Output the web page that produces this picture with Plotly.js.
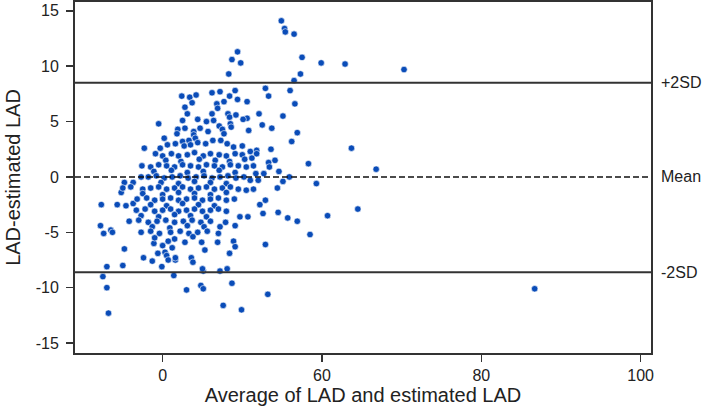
<!DOCTYPE html>
<html>
<head>
<meta charset="utf-8">
<script src="https://cdn.plot.ly/plotly-3.0.1.min.js"></script>
<style>html,body{margin:0;padding:0;background:#fff;}#chart{width:709px;height:414px;}</style>
</head>
<body>
<div id="chart"></div>
<script>
// Bland-Altman data: average of LAD and estimated LAD (x) vs LAD - estimated LAD (y)
const avgOuter = [54.9, 55.3, 55.4, 56.5, 49.4, 48.7, 49.8, 57.5, 59.9, 62.9,
  70.3, 48.3, 57.3, 56.5, 52.9, 53.3, 56.0, 56.6, 55.1, 52.1,
  52.5, 53.7, 56.9, 56.2, 53.6, 63.7, 58.3, 54.1, 53.3, 54.6,
  55.9, 55.1, 59.3, 66.8, 54.4, 64.5, 60.7, 58.5, 56.9, 55.7,
  54.5, 52.9, 52.6, 52.2, 52.9, 53.2, 86.7, 53.4, 52.7, 51.7,
  51.0, 52.0, 51.4, 51.2];
const diffOuter = [14.1, 13.4, 13.1, 12.9, 11.3, 10.6, 10.3, 10.8, 10.3, 10.2,
  9.7, 9.3, 9.3, 8.7, 8.0, 7.3, 7.8, 6.6, 5.5, 5.7,
  4.7, 4.4, 4.0, 3.2, 2.5, 2.6, 1.2, 1.5, 1.3, 0.5,
  0.0, -0.4, -0.6, 0.7, -1.0, -2.9, -3.5, -5.2, -4.0, -3.7,
  -3.2, -2.1, -3.3, -2.5, -6.1, -10.6, -10.1, 0.9, 0.3, 0.3,
  -0.3, -0.3, 1.0, 1.7];

const avgLow = [50.5, 51.4, 49.7, 50.7, 49.1, 47.9, 47.2, 46.9, 48.9, 49.1,
  48.4, 48.1, 47.2, 45.1, 44.9, 45.3, 48.7, 47.6, 49.9, 44.8,
  45.1, 43.0, 41.4, 43.6, 43.8, 39.9, 41.6, 38.7, 37.6, 35.0,
  35.2, 33.0, 32.5, 33.0, 33.2, 33.5, 32.6, 34.3, 35.4, 36.3,
  34.8, 32.2, 32.3, 38.9, 39.4, 40.0, 40.3, 40.5, 40.7, 41.2,
  40.7, 42.8, 41.6, 45.0, 33.7, 35.2, 36.3, 37.3];
const diffLow = [-1.2, -1.1, -3.6, -3.6, -4.4, -4.1, -4.5, -5.9, -5.8, -6.3,
  -6.9, -8.3, -8.5, -8.5, -5.9, -6.6, -9.6, -11.6, -12.0, -9.8,
  -10.1, -10.2, -8.9, -7.3, -7.7, -8.1, -7.5, -7.6, -7.3, -8.0,
  -6.5, -8.1, -9.0, -10.0, -12.3, -4.8, -5.1, -2.5, -2.6, -2.4,
  -1.4, -4.4, -2.5, -6.0, -6.9, -6.2, -6.8, -7.1, -7.5, -6.4,
  -5.8, -5.9, -7.3, -8.3, -5.0, -0.5, -0.5, 0.0];

const avgUpper = [42.4, 43.4, 44.2, 46.2, 47.2, 49.1, 48.4, 49.4, 42.8, 43.7,
  46.8, 47.7, 46.9, 43.1, 46.2, 48.2, 48.4, 49.2, 50.6, 50.6,
  39.5, 42.5, 42.8, 44.4, 45.5, 46.4, 47.1, 47.5, 47.7, 48.5,
  48.6, 50.1, 50.8, 41.9, 41.8, 40.2, 43.9, 43.9, 44.1, 44.7,
  45.7, 37.7, 39.7, 40.6, 41.6, 42.5, 42.7, 43.3, 43.5, 44.4,
  45.4, 46.3, 47.3, 48.1, 48.9, 50.0, 51.8, 51.0, 51.8];
const diffUpper = [7.3, 7.2, 7.4, 7.6, 7.7, 7.8, 7.3, 7.0, 6.3, 6.7,
  6.6, 6.8, 6.2, 5.7, 5.7, 5.7, 5.4, 5.6, 6.8, 5.3,
  4.8, 5.1, 4.4, 5.2, 5.0, 5.1, 4.6, 4.3, 3.9, 4.8,
  4.5, 5.2, 4.2, 4.3, 3.9, 3.5, 4.1, 3.8, 3.5, 4.4,
  4.1, 2.6, 2.6, 2.9, 3.0, 3.2, 2.8, 3.3, 2.9, 3.1,
  3.0, 3.3, 3.3, 3.0, 2.7, 2.8, 2.4, 2.3, 2.1];

const avgCore = [
  39.1, 40.0, 41.1, 42.0, 43.1, 44.0, 45.1, 46.0, 47.1, 48.0, 49.1, 50.0,
  40.4, 42.3, 44.6, 46.6, 48.4, 50.3,
  37.4, 38.5, 39.5, 40.5, 41.5, 42.5, 43.5, 44.5, 45.5, 46.5, 47.5, 48.5, 49.5, 50.5,
  38.9, 41.1, 43.1, 45.1, 47.1, 49.1,
  38.2, 39.2, 40.2, 41.2, 42.2, 43.2, 44.2, 45.2, 46.2, 47.2, 48.2, 49.2, 50.2,
  39.8, 42.0, 44.0, 46.0, 48.0,
  35.0, 36.0, 37.5, 38.5, 39.5, 40.5, 41.5, 42.5, 43.5, 44.5, 45.5, 46.5, 47.5, 48.5, 49.5,
  37.5, 40.0, 42.0, 44.0, 46.0, 48.0,
  36.8, 38.0, 39.0, 40.0, 41.0, 42.0, 43.0, 44.0, 45.0, 46.0, 47.0, 48.0, 49.0,
  38.5, 40.5, 42.5, 44.5, 46.5,
  36.7, 37.8, 39.0, 40.0, 41.0, 42.0, 43.0, 44.0, 45.0, 46.0, 47.0, 48.0,
  37.3, 39.5, 41.5, 43.5, 45.5,
  35.8, 37.0, 38.2, 39.3, 40.4, 41.5, 42.6, 43.7, 44.8, 46.0,
  38.7, 40.9, 43.1, 45.2,
  37.3, 38.5, 39.6, 41.0, 42.2, 43.3, 44.4, 45.6, 47.0,
  39.0, 41.5, 43.8];
const diffCore = [
  2.1, 1.9, 2.1, 1.9, 2.0, 2.2, 1.9, 2.1, 2.0, 1.9, 2.1, 2.0,
  1.5, 1.4, 1.6, 1.5, 1.4, 1.6,
  1.0, 0.9, 1.1, 1.0, 0.9, 1.1, 1.0, 0.9, 1.1, 1.0, 0.9, 1.1, 1.0, 0.9,
  0.5, 0.6, 0.4, 0.5, 0.6, 0.4,
  0.0, 0.1, -0.1, 0.0, 0.1, -0.1, 0.0, 0.1, -0.1, 0.0, 0.1, -0.1, 0.0,
  -0.5, -0.6, -0.4, -0.5, -0.6,
  -1.0, -0.9, -1.1, -1.0, -0.9, -1.1, -1.0, -0.9, -1.1, -1.0, -0.9, -1.1, -1.0, -0.9, -1.1,
  -1.5, -1.6, -1.4, -1.5, -1.6, -1.4,
  -2.0, -1.9, -2.1, -2.0, -1.9, -2.1, -2.0, -1.9, -2.1, -2.0, -1.9, -2.1, -2.0,
  -2.5, -2.6, -2.4, -2.5, -2.6,
  -3.0, -2.9, -3.1, -3.0, -2.9, -3.1, -3.0, -2.9, -3.1, -3.0, -2.9, -3.1,
  -3.5, -3.6, -3.4, -3.5, -3.6,
  -4.0, -3.9, -4.1, -4.0, -3.9, -4.1, -4.0, -3.9, -4.1, -4.0,
  -4.5, -4.6, -4.4, -4.5,
  -5.0, -4.9, -5.1, -5.0, -4.9, -5.1, -5.0, -4.9, -5.1,
  -5.5, -5.6, -5.4];

const meanDiff = 0.0;
const upperLoA = 8.5;
const lowerLoA = -8.6;
const refLabels = ["+2SD", "Mean", "-2SD"];
const xTickVals = [40, 60, 80, 100];
const xTickText = ["0", "60", "80", "100"];
const yTickVals = [-15, -10, -5, 0, 5, 10, 15];
const yTickText = ["-15", "-10", "-5", "0", "5", "10", "15"];

const xs = avgOuter.concat(avgLow, avgUpper, avgCore);
const ys = diffOuter.concat(diffLow, diffUpper, diffCore);

const FONT = '"Liberation Sans", Arial, sans-serif';

const trace = {
  type: 'scatter', mode: 'markers', x: xs, y: ys,
  marker: {color: '#0a4cb8', size: 6.5, line: {color: '#ffffff', width: 0.6}},
  hoverinfo: 'x+y', showlegend: false
};

const refVals = [upperLoA, meanDiff, lowerLoA];
const shapes = refVals.map((v, i) => ({
  type: 'line', xref: 'paper', x0: 0, x1: 1, yref: 'y', y0: v, y1: v,
  line: {color: i === 1 ? '#111' : '#333', width: i === 1 ? 1.5 : 2, dash: i === 1 ? '6px,3px' : 'solid'}
}));
const annotations = refVals.map((v, i) => ({
  xref: 'paper', x: 1, xanchor: 'left', xshift: 8, yref: 'y', y: v, yanchor: 'middle',
  text: refLabels[i], showarrow: false, font: {family: FONT, size: 16, color: '#222'}
}));

const layout = {
  width: 709, height: 414,
  margin: {l: 75, r: 58, t: 2, b: 61},
  paper_bgcolor: '#fff', plot_bgcolor: '#fff',
  font: {family: FONT, color: '#222'},
  xaxis: {
    range: [29.0, 101.3], tickvals: xTickVals, ticktext: xTickText,
    showgrid: false, zeroline: false, showline: true, mirror: true,
    linecolor: '#333', linewidth: 2, ticks: 'outside', ticklen: 7, tickwidth: 1.5, tickcolor: '#333',
    tickfont: {family: FONT, size: 16, color: '#222'},
    title: {text: 'Average of LAD and estimated LAD', font: {family: FONT, size: 20, color: '#222'}, standoff: 5}
  },
  yaxis: {
    range: [-15.9, 15.8], tickvals: yTickVals, ticktext: yTickText,
    showgrid: false, zeroline: false, showline: true, mirror: true,
    linecolor: '#333', linewidth: 2, ticks: 'outside', ticklen: 7, tickwidth: 1.5, tickcolor: '#333',
    ticklabelstandoff: 4,
    tickfont: {family: FONT, size: 16, color: '#222'},
    title: {text: 'LAD-estimated LAD', font: {family: FONT, size: 20, color: '#222'}, standoff: 10}
  },
  shapes: shapes,
  annotations: annotations
};

Plotly.newPlot('chart', [trace], layout, {displayModeBar: false, staticPlot: true});
</script>
</body>
</html>
